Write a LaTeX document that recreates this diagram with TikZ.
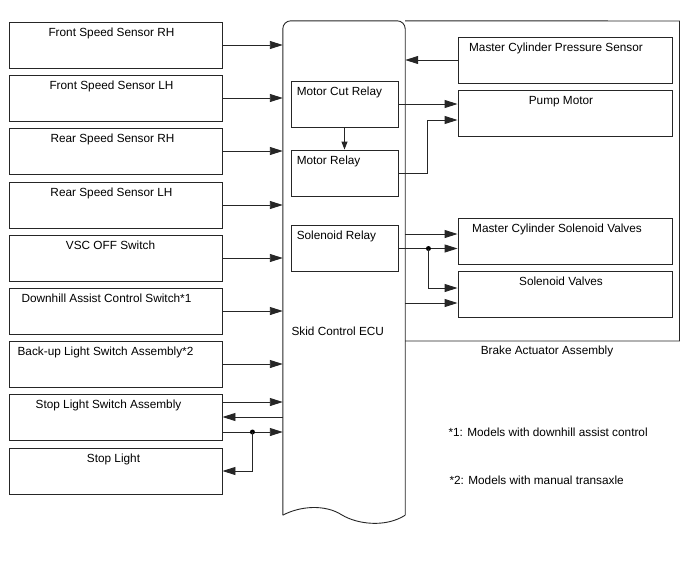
\documentclass[tikz,border=0pt]{standalone}
\usepackage{fontspec}
\setmainfont{Liberation Sans}
\usetikzlibrary{arrows.meta}
\tikzset{
  wire/.style={black!85, line width=.9pt},
  unit/.style={draw=black!85, line width=.9pt, inner sep=0pt},
  inbox/.style={unit, minimum width=213, minimum height=46},
  outbox/.style={unit, minimum width=214, minimum height=46},
  relay/.style={unit, minimum width=107, minimum height=46},
  boxtext/.style={anchor=north, inner sep=6pt},
  relaytext/.style={anchor=north west, inner sep=6pt},
  dot/.style={fill=black}
}

\begin{document}
\begin{tikzpicture}[x=1pt, y=-1pt, >={Triangle[length=13pt,width=8pt]},
    font=\fontsize{11.8}{14}\selectfont]
    \useasboundingbox (0,0) rectangle (688,560);
    % skid control ECU
    \node[inner sep=0, minimum width=122, minimum height=494] (ecu) at (344,268) {};
    \draw[wire, rounded corners=8] (ecu.south west) -- (ecu.north west) -- (ecu.north east) -- (ecu.south east);
    \draw[wire] (ecu.south east) .. controls (385,528) and (357,524) .. (342,515)
                                .. controls (325,504) and (300,506) .. (ecu.south west);
    \node[anchor=west] (ecuname) at (288,331) {Skid Control ECU};
    % brake actuator
    \draw[wire] (ecu.north east) -- (679.5,21) -- (679.5,341) -- (405,341);
    \node (actname) at (547,351) {Brake Actuator Assembly};
    % inputs on the left
    \foreach \n/\y/\dx/\t in {fsrh/45/-4/Front Speed Sensor RH, fslh/98/-4/Front Speed Sensor LH,
        rsrh/151/-3/Rear Speed Sensor RH, rslh/205/-4/Rear Speed Sensor LH, vsc/258/-5/VSC OFF Switch,
        dac/311/-9/Downhill Assist Control Switch*1, bls/364/-10/Back-up Light Switch Assembly*2,
        sls/417/-7/Stop Light Switch Assembly, sl/471/-2/Stop Light} {
      \node[inbox, label={[boxtext, xshift=\dx pt]north:\t}] (\n) at (115.5,\y) {};
    }
    \foreach \n in {fsrh,fslh,rsrh,rslh,vsc,dac,bls} {
      \draw[wire,->] (\n.east) -- (\n.east -| ecu.west);
    }
    % stop light switch
    \coordinate (s1) at ([yshift=15pt]sls.east);
    \coordinate (s3) at ([yshift=-15pt]sls.east);
    \draw[wire,->] (s1) -- (s1 -| ecu.west);
    \draw[wire,->] (sls.east -| ecu.west) -- (sls.east);
    \draw[wire,->] (s3) -- (s3 -| ecu.west);
    \path (s3) ++(30,0) coordinate (j1);
    \fill[dot] (j1) circle (2.5);
    \draw[wire,->] (j1) |- (sl.east);
    % relays in the ECU
    \node[relay, label={[relaytext]north west:Motor Cut Relay}] (mcr) at (344.5,104) {};
    \node[relay, label={[relaytext]north west:Motor Relay}] (mr) at (344.5,173) {};
    \node[relay, label={[relaytext]north west:Solenoid Relay}] (sr) at (344.5,248.5) {};
    \draw[wire,-{Triangle[length=8pt,width=6pt]}] (mcr) -- (mr);
    % actuator parts
    \node[outbox, label={[boxtext, xshift=-9pt]north:Master Cylinder Pressure Sensor}] (mcps) at (565,60) {};
    \node[outbox, label={[boxtext, xshift=-4pt]north:Pump Motor}] (pm) at (565,113.5) {};
    \node[outbox, label={[boxtext, xshift=-8pt]north:Master Cylinder Solenoid Valves}] (mcsv) at (565,241) {};
    \node[outbox, label={[boxtext, xshift=-4pt]north:Solenoid Valves}] (sv) at (565,294.5) {};
    \draw[wire,->] (mcps.west) -- (mcps.west -| ecu.east);
    \draw[wire,->] (mcr.east) -- (mcr.east -| pm.west);
    \coordinate (p2) at ([yshift=-6.5pt]pm.west);
    \draw[wire,->] (mr.east) -- ++(29,0) |- (p2);
    \coordinate (v1) at ([yshift=7pt]mcsv.west);
    \draw[wire,->] (v1 -| ecu.east) -- (v1);
    \draw[wire,->] (sr.east) -- (sr.east -| mcsv.west);
    \path (sr.east) ++(30,0) coordinate (j2);
    \fill[dot] (j2) circle (2.5);
    \coordinate (v2) at ([yshift=6.5pt]sv.west);
    \draw[wire,->] (j2) |- (v2);
    \coordinate (v3) at ([yshift=-8.5pt]sv.west);
    \draw[wire,->] (v3 -| ecu.east) -- (v3);
    % notes
    \node[anchor=west] (note1) at (445,432) {*1: Models with downhill assist control};
    \node[anchor=west] (note2) at (446,480) {*2: Models with manual transaxle};
\end{tikzpicture}
\end{document}
